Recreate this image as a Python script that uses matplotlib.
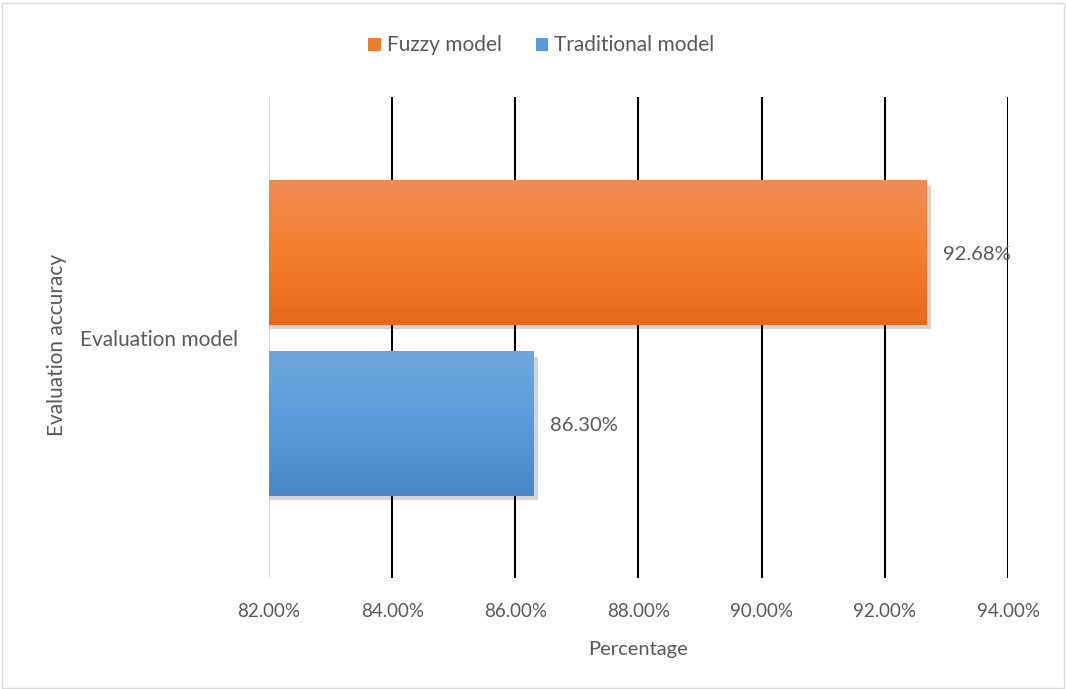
import numpy as np
import matplotlib.pyplot as plt
import matplotlib as mpl
from matplotlib.patches import Rectangle
from matplotlib.colors import LinearSegmentedColormap
from matplotlib.ticker import FuncFormatter

mpl.rcParams["font.family"] = ["Lato", "DejaVu Sans"]

# data
category = "Evaluation model"
series = ["Fuzzy model", "Traditional model"]
values = [92.68, 86.30]
labels = ["92.68%", "86.30%"]
ticks = [82, 84, 86, 88, 90, 92, 94]

TXT = "#595959"
grads = [["#F08C58", "#F47F2C", "#E4691A"],
         ["#70A7DC", "#5A9BD9", "#4787C8"]]
solid = ["#ED7D31", "#5B9BD5"]

fig = plt.figure(figsize=(10.66, 6.89), dpi=100)
ax = fig.add_axes([0.2523, 0.1611, 0.6933, 0.6981])

XMIN, XMAX = 82, 94
H = 0.3015
offsets = [0.1767, -0.1787]
px_x = (XMAX - XMIN) / 739.0   # data units per pixel
px_y = 1.0 / 481.0

for i, (v, off) in enumerate(zip(values, offsets)):
    y0 = off - H / 2
    # soft shadow, a few stacked layers
    for k in range(4):
        g = k + 1
        ax.add_patch(Rectangle((XMIN + (3 - g) * px_x, y0 - 4 * px_y),
                               v - XMIN + (g + 1) * px_x, H - 2 * px_y,
                               facecolor="black", alpha=0.045, lw=0, zorder=2))
    cmap = LinearSegmentedColormap.from_list("g%d" % i, grads[i][::-1])
    grad = np.linspace(0, 1, 256).reshape(-1, 1)
    im = ax.imshow(grad, cmap=cmap, aspect="auto", origin="lower",
                   extent=(XMIN, v, y0, y0 + H), zorder=3)
    rect = Rectangle((XMIN, y0), v - XMIN, H, facecolor="none", lw=0, zorder=3)
    ax.add_patch(rect)
    im.set_clip_path(rect)
    ax.text(v + 0.26, off - 0.005, labels[i], ha="left", va="center", fontsize=14.5,
            color=TXT, zorder=5)

ax.set_xlim(XMIN, XMAX)
ax.set_ylim(-0.5, 0.5)
ax.set_xticks(ticks)
ax.xaxis.set_major_formatter(FuncFormatter(lambda x, p: f"{x:.2f}%"))
ax.tick_params(axis="x", length=0, pad=18, labelsize=13.5, labelcolor=TXT)
ax.set_yticks([0])
ax.set_yticklabels([category])
ax.tick_params(axis="y", length=0, pad=22, labelsize=15, labelcolor=TXT)
for s in ax.spines.values():
    s.set_visible(False)
for t in ticks[1:]:
    ax.axvline(t, color="black", lw=1.5, zorder=1)
ax.axvline(XMIN, color="#D9D9D9", lw=1.5, zorder=1)

ax.set_xlabel("Percentage", fontsize=14.5, color=TXT, labelpad=15)
fig.text(0.0535, 0.5, "Evaluation accuracy", rotation=90, ha="center", va="center",
         fontsize=15, color=TXT)

handles = [Rectangle((0, 0), 1, 1, facecolor=c, lw=0) for c in solid]
fig.legend(handles, series, loc="center", bbox_to_anchor=(0.508, 0.934), ncol=2,
           frameon=False, fontsize=15, labelcolor=TXT, handlelength=0.6,
           handleheight=0.6, handletextpad=0.3, columnspacing=1.6)

fig.add_artist(Rectangle((0.002, 0.002), 0.996, 0.994, transform=fig.transFigure,
                         facecolor="none", edgecolor="#D9D9D9", lw=1))

fig.savefig("out.png", dpi=100)
